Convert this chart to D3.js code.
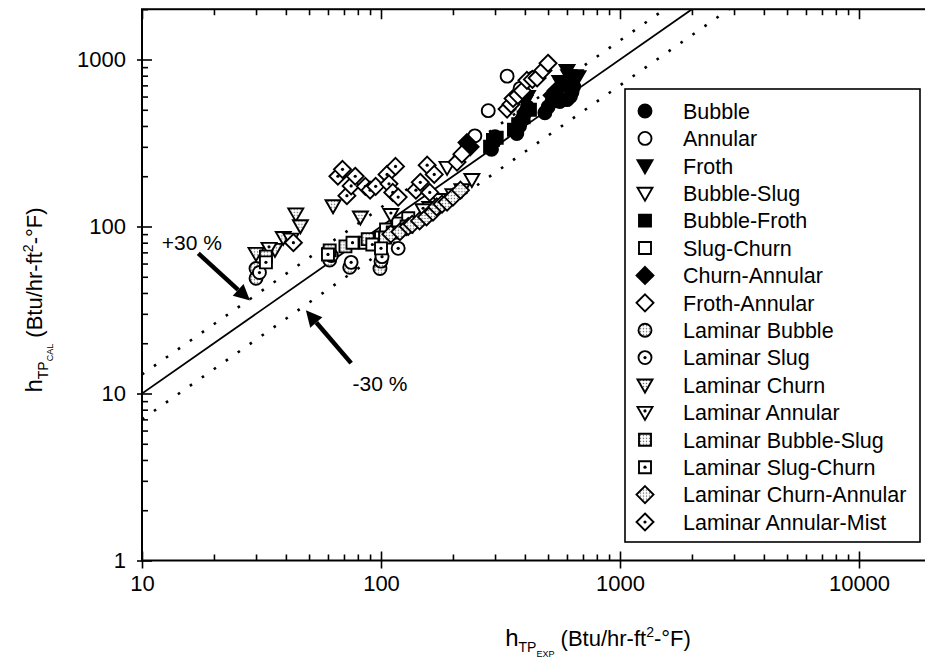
<!DOCTYPE html>
<html>
<head>
<meta charset="utf-8">
<script src="https://cdn.jsdelivr.net/npm/d3@7"></script>
<style>
  body { margin: 0; background: #fff; }
  svg { display: block; }
  text { font-family: "Liberation Sans", Arial, sans-serif; fill: #000; }
</style>
</head>
<body>
<svg id="chart" width="925" height="667"></svg>
<script>
// Flow-regime names, in legend order
const seriesNames = [
  "Bubble", "Annular", "Froth", "Bubble-Slug", "Bubble-Froth", "Slug-Churn",
  "Churn-Annular", "Froth-Annular", "Laminar Bubble", "Laminar Slug",
  "Laminar Churn", "Laminar Annular", "Laminar Bubble-Slug", "Laminar Slug-Churn",
  "Laminar Churn-Annular", "Laminar Annular-Mist"
];

// [h_TP,exp , h_TP,cal] pairs, Btu/hr-ft2-°F
const bubble = [[229,312],[290,290],[296,322],[300,345],[370,360],[380,400],[390,440],[400,480],[410,520],[485,480],[500,520],[520,560],[560,560],[600,575],[620,600],[630,640],[640,690]];
const annular = [[247,349],[281,494],[337,795],[382,672],[433,775]];
const froth = [[400,560],[410,600],[560,740],[575,700],[600,860],[610,800],[620,720],[630,780],[650,800],[667,790]];
const bubbleSlug = [[160,130],[175,145],[189,226],[200,155],[218,166],[240,191]];
const bubbleFroth = [[286,300],[294,330],[305,340],[360,380],[375,410],[395,450],[420,500]];
const slugChurn = [[86,80],[100,86],[105,96],[118,104],[130,112]];
const churnAnnular = [[229,318],[236,300],[385,430],[520,610],[540,650]];
const frothAnnular = [[208,243],[218,271],[337,505],[350,540],[357,584],[374,610],[390,650],[408,750],[430,760],[450,775],[476,860],[500,950]];
const laminarBubble = [[30,49],[30,56],[61,63],[74,57],[99,56],[100,62]];
const laminarSlug = [[31,53],[62,67],[75,61],[101,66],[118,74]];
const laminarChurn = [[30,69],[36,73],[39,86],[44,119],[46,101],[63,133],[82,114]];
const laminarAnnular = [[34,74],[42,84],[110,118],[150,126]];
const laminarBubbleSlug = [[33,66],[61,72],[71,76],[88,84],[104,86],[112,92],[128,100]];
const laminarSlugChurn = [[33,61],[60,68],[76,80],[92,78],[100,74]];
const laminarChurnAnnular = [[110,90],[120,93],[130,100],[135,103],[145,108],[155,114],[165,122],[171,131],[180,136],[189,140],[200,150],[215,165]];
const laminarAnnularMist = [[43,80],[66,200],[69,220],[72,153],[75,175],[78,200],[86,174],[90,165],[95,174],[106,205],[108,180],[112,160],[115,229],[118,150],[140,165],[146,184],[156,233],[167,205],[160,160]];

const seriesValues = [
  bubble, annular, froth, bubbleSlug, bubbleFroth, slugChurn, churnAnnular, frothAnnular,
  laminarBubble, laminarSlug, laminarChurn, laminarAnnular, laminarBubbleSlug,
  laminarSlugChurn, laminarChurnAnnular, laminarAnnularMist
];

// Marker shape and fill per regime
const seriesShapes = ["circle","circle","triangle","triangle","square","square","diamond","diamond",
  "circle","circle","triangle","triangle","square","square","diamond","diamond"];
const seriesFills = ["solid","open","solid","open","solid","open","solid","open",
  "dotted","dot","dotted","dot","dotted","dot","dotted","dot"];

const xTickValues = [10, 100, 1000, 10000];
const yTickValues = [1, 10, 100, 1000];
const xDomain = [10, 20000];
const yDomain = [1, 2000];

// Parity line and the ±30 % band
const bandFactors = [1, 1.3, 0.7];
const bandLabels = ["+30 %", "-30 %"];

const svg = d3.select("#chart");
const left = 142, bottom = 560.5, xDecade = 239, yDecade = 167;
const x = d3.scaleLog().domain(xDomain).range([left, left + xDecade * Math.log10(xDomain[1] / xDomain[0])]);
const y = d3.scaleLog().domain(yDomain).range([bottom, bottom - yDecade * Math.log10(yDomain[1] / yDomain[0])]);
const [x0, x1] = x.range();
const [y0, y1] = y.range();

// dotted fill used by the laminar markers
const defs = svg.append("defs");
const pat = defs.append("pattern").attr("id", "dots").attr("width", 3).attr("height", 3)
  .attr("patternUnits", "userSpaceOnUse");
pat.append("rect").attr("width", 3).attr("height", 3).attr("fill", "#fff");
pat.append("circle").attr("cx", 1.5).attr("cy", 1.5).attr("r", 0.75).attr("fill", "#666");
const clip = defs.append("clipPath").attr("id", "plotClip");
clip.append("rect").attr("x", x0).attr("y", y1).attr("width", x1 - x0).attr("height", y0 - y1);

// Axes: major ticks cross the frame, minor ticks point inside
const isMajor = v => Math.abs(Math.log10(v) - Math.round(Math.log10(v))) < 1e-9;
const xMinor = x.ticks().filter(v => !isMajor(v));
const yMinor = y.ticks().filter(v => !isMajor(v));

function styleAxis(g) {
  g.select(".domain").remove();
  g.selectAll(".tick line").attr("stroke", "#000").attr("stroke-width", 1.6);
  g.selectAll(".tick text").style("font-size", "22px").attr("fill", "#000")
    .style("font-family", '"Liberation Sans", Arial, sans-serif');
}

svg.append("g").attr("transform", `translate(0,${y0})`)
  .call(d3.axisBottom(x).tickValues(xTickValues).tickFormat(d3.format("d")).tickSize(8).tickPadding(7).tickSizeOuter(0))
  .call(styleAxis);
svg.append("g").attr("transform", `translate(0,${y0})`)
  .call(d3.axisTop(x).tickValues(xTickValues).tickFormat("").tickSize(9).tickSizeOuter(0)).call(styleAxis);
svg.append("g").attr("transform", `translate(0,${y0})`)
  .call(d3.axisTop(x).tickValues(xMinor).tickFormat("").tickSize(6).tickSizeOuter(0)).call(styleAxis);
svg.append("g").attr("transform", `translate(0,${y1})`)
  .call(d3.axisBottom(x).tickValues(xTickValues).tickFormat("").tickSize(10).tickSizeOuter(0)).call(styleAxis);
svg.append("g").attr("transform", `translate(0,${y1})`)
  .call(d3.axisBottom(x).tickValues(xMinor).tickFormat("").tickSize(6).tickSizeOuter(0)).call(styleAxis);

svg.append("g").attr("transform", `translate(${x0},0)`)
  .call(d3.axisLeft(y).tickValues(yTickValues).tickFormat(d3.format("d")).tickSize(5).tickPadding(11).tickSizeOuter(0))
  .call(styleAxis);
svg.append("g").attr("transform", `translate(${x0},0)`)
  .call(d3.axisRight(y).tickValues(yTickValues).tickFormat("").tickSize(10).tickSizeOuter(0)).call(styleAxis);
svg.append("g").attr("transform", `translate(${x0},0)`)
  .call(d3.axisRight(y).tickValues(yMinor).tickFormat("").tickSize(6).tickSizeOuter(0)).call(styleAxis);

// Plot frame
svg.append("rect").attr("x", x0).attr("y", y1).attr("width", x1 - x0).attr("height", y0 - y1)
  .attr("fill", "none").attr("stroke", "#000").attr("stroke-width", 2);

// Parity line and ±30 % lines
const plot = svg.append("g").attr("clip-path", "url(#plotClip)");
bandFactors.forEach(f => {
  const xe = Math.min(xDomain[1], yDomain[1] / f);
  plot.append("line")
    .attr("x1", x(xDomain[0])).attr("y1", y(xDomain[0] * f))
    .attr("x2", x(xe)).attr("y2", y(xe * f))
    .attr("stroke", "#000")
    .attr("stroke-width", f === 1 ? 1.8 : 2.6)
    .attr("stroke-dasharray", f === 1 ? null : "2.6,12");
});

// Marker geometry
function markerPath(shape) {
  if (shape === "circle") return d3.arc()({innerRadius: 0, outerRadius: 6.5, startAngle: 0, endAngle: 2 * Math.PI});
  if (shape === "triangle") return "M-7.5,-5.5L7.5,-5.5L0,7.5Z";
  if (shape === "square") return "M-6,-6L6,-6L6,6L-6,6Z";
  return "M0,-8.5L8.5,0L0,8.5L-8.5,0Z";
}
function fillOf(kind) {
  if (kind === "solid") return "#000";
  if (kind === "dotted") return "url(#dots)";
  return "#fff";
}
function drawMarker(g, shape, kind) {
  g.append("path").attr("d", markerPath(shape))
    .attr("fill", fillOf(kind)).attr("stroke", "#000").attr("stroke-width", 1.9)
    .attr("stroke-linejoin", "miter");
  if (kind === "dot") {
    g.append("circle").attr("cx", 0).attr("cy", shape === "triangle" ? -1.5 : 0).attr("r", 1.6).attr("fill", "#000");
  }
}

seriesValues.forEach((pts, i) => {
  plot.selectAll(null).data(pts).enter().append("g")
    .attr("transform", d => `translate(${x(d[0])},${y(d[1])})`)
    .each(function() { drawMarker(d3.select(this), seriesShapes[i], seriesFills[i]); });
});

// Band annotations with arrows
function arrow(from, to) {
  const [ax, ay] = [x(from[0]), y(from[1])];
  const [bx, by] = [x(to[0]), y(to[1])];
  const ang = Math.atan2(by - ay, bx - ax);
  const headLen = 16, headW = 8;
  const hx = bx - headLen * Math.cos(ang), hy = by - headLen * Math.sin(ang);
  svg.append("line").attr("x1", ax).attr("y1", ay).attr("x2", hx).attr("y2", hy)
    .attr("stroke", "#000").attr("stroke-width", 4.5);
  const px = -Math.sin(ang) * headW, py = Math.cos(ang) * headW;
  svg.append("path")
    .attr("d", `M${bx},${by}L${hx + px},${hy + py}L${hx - px},${hy - py}Z`)
    .attr("fill", "#000");
}
arrow([17.2, 69], [28.3, 36]);
arrow([75, 15.2], [48.5, 31.5]);
svg.append("text").attr("x", x(12.1)).attr("y", y(72)).style("font-size", "21px").text(bandLabels[0]);
svg.append("text").attr("x", x(76)).attr("y", y(10.4)).style("font-size", "21px").text(bandLabels[1]);

// Legend
const legX = 625, legY = 89, legW = 295, legH = 453, rowH = 27.4, firstRow = 111;
svg.append("rect").attr("x", legX).attr("y", legY).attr("width", legW).attr("height", legH)
  .attr("fill", "#fff").attr("stroke", "#000").attr("stroke-width", 1.6);
seriesNames.forEach((name, i) => {
  const ry = firstRow + i * rowH;
  const g = svg.append("g").attr("transform", `translate(${legX + 20},${ry})`);
  drawMarker(g, seriesShapes[i], seriesFills[i]);
  svg.append("text").attr("x", legX + 58).attr("y", ry).attr("dy", "0.36em")
    .style("font-size", "21.5px").text(name);
});

// Axis titles with subscripts and superscripts
function axisTitle(t, sub1, sub2) {
  t.append("tspan").style("font-size", "24px").text("h");
  t.append("tspan").style("font-size", "14px").attr("dy", 6).text(sub1);
  t.append("tspan").style("font-size", "9px").attr("dy", 5).text(sub2);
  t.append("tspan").style("font-size", "22px").attr("dy", -11).text(" (Btu/hr-ft");
  t.append("tspan").style("font-size", "14px").attr("dy", -9).text("2");
  t.append("tspan").style("font-size", "22px").attr("dy", 9).text("-°F)");
}
axisTitle(svg.append("text").attr("text-anchor", "middle")
  .attr("transform", "translate(42,300) rotate(-90)"), "TP", "CAL");
axisTitle(svg.append("text").attr("text-anchor", "middle")
  .attr("x", 598).attr("y", 646), "TP", "EXP");
</script>
</body>
</html>
